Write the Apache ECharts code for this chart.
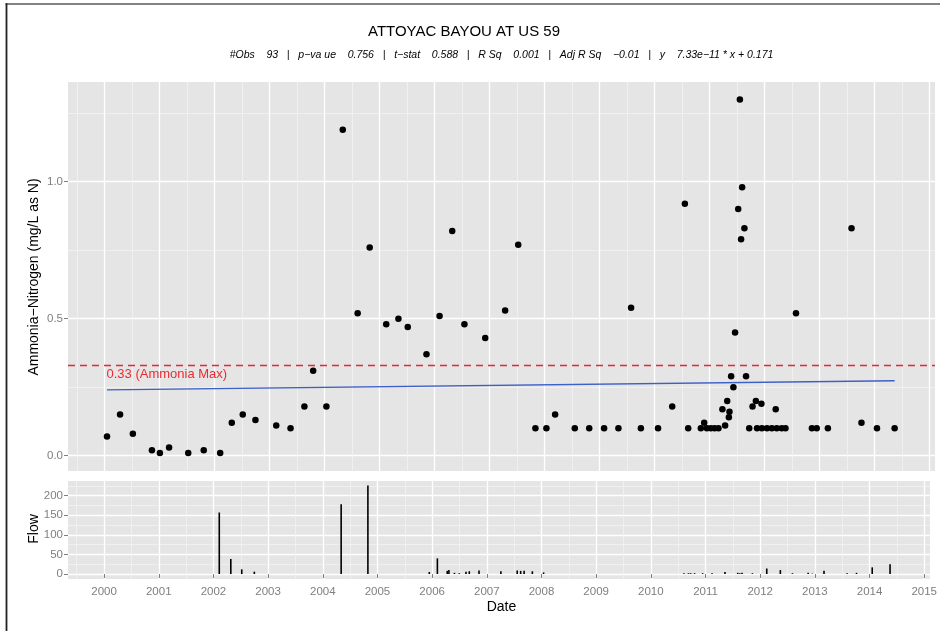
<!DOCTYPE html>
<html>
<head>
<meta charset="utf-8">
<script src="https://cdn.jsdelivr.net/npm/echarts@6/dist/echarts.min.js"></script>
<style>
  html, body { margin: 0; padding: 0; background: #ffffff; }
  #chart { width: 940px; height: 631px; }
</style>
</head>
<body>
<div id="chart"></div>
<script>
// Ammonia-nitrogen samples (mg/L as N)
const sampleDates = [
  '2000-01-19','2000-04-15','2000-07-09','2000-11-13','2001-01-05','2001-03-07','2001-07-12','2001-10-23',
  '2002-02-09','2002-04-27','2002-07-09','2002-10-01','2003-02-16','2003-05-22','2003-08-22','2003-10-19',
  '2004-01-15','2004-05-03','2004-08-10','2004-10-29','2005-02-16','2005-05-08','2005-07-09','2005-11-10',
  '2006-02-05','2006-04-30','2006-07-20','2006-12-05','2007-04-16','2007-07-12','2007-11-03','2008-01-15',
  '2008-03-13','2008-07-22','2008-10-26','2009-02-02','2009-05-08','2009-07-31','2009-10-04','2010-01-26',
  '2010-04-30','2010-07-23','2010-08-14','2010-11-06','2010-11-28','2010-12-16','2011-01-11','2011-02-05',
  '2011-03-03','2011-03-29','2011-04-16','2011-04-30','2011-05-11','2011-05-15','2011-05-26','2011-06-10',
  '2011-06-21','2011-07-12','2011-07-23','2011-07-31','2011-08-07','2011-08-22','2011-09-02','2011-09-23',
  '2011-10-15','2011-11-06','2011-11-14','2011-12-13','2011-12-16','2012-01-19','2012-02-20','2012-03-17',
  '2012-03-24','2012-04-26','2012-05-21','2012-07-30','2012-11-13','2012-12-15','2013-02-27','2013-08-03',
  '2013-10-08','2014-01-19','2014-05-16'
];
const ammoniaValues = [
  0.07, 0.15, 0.08, 0.02, 0.01, 0.03, 0.01, 0.02,
  0.01, 0.12, 0.15, 0.13, 0.11, 0.10, 0.18, 0.31,
  0.18, 1.19, 0.52, 0.76, 0.48, 0.50, 0.47, 0.37,
  0.51, 0.82, 0.48, 0.43, 0.53, 0.77, 0.10, 0.10,
  0.15, 0.10, 0.10, 0.10, 0.10, 0.54, 0.10, 0.10,
  0.18, 0.92, 0.10, 0.10, 0.12, 0.10, 0.10, 0.10,
  0.10, 0.17, 0.11, 0.20, 0.14, 0.16, 0.29, 0.25,
  0.45, 0.90, 1.30, 0.79, 0.98, 0.83, 0.29, 0.10,
  0.18, 0.20, 0.10, 0.19, 0.10, 0.10, 0.10, 0.17,
  0.10, 0.10, 0.10, 0.52, 0.10, 0.10, 0.10, 0.83,
  0.12, 0.10, 0.10
];

// Instantaneous flow at sampling
const flowDates = [
  '2002-02-09','2002-04-27','2002-07-09','2002-10-01','2004-05-03','2004-10-29','2005-12-13','2006-02-05',
  '2006-04-12','2006-04-23','2006-05-30','2006-07-01','2006-08-15','2006-09-06','2006-11-10','2007-04-05',
  '2007-07-23','2007-08-15','2007-09-07','2007-11-01','2008-01-15','2010-08-10','2010-09-09','2010-09-24',
  '2010-10-20','2010-12-13','2011-02-14','2011-05-11','2011-08-04','2011-08-18','2011-09-02','2011-11-10',
  '2012-02-14','2012-05-15','2012-08-04','2012-11-17','2012-12-15','2013-03-03','2013-08-04','2013-10-06',
  '2014-01-19','2014-05-18'
];
const flowValues = [
  157, 38, 12, 6, 178, 226, 5, 40,
  8, 10, 3, 2, 6, 7, 9, 7,
  9, 8, 8, 7, 4, 2, 2, 2,
  2, 2, 2, 5, 3, 2, 3, 2,
  14, 10, 2, 3, 1, 8, 2, 3,
  17, 25
];

// Axis ticks
const yearTicks = [2000, 2001, 2002, 2003, 2004, 2005, 2006, 2007, 2008, 2009, 2010, 2011, 2012, 2013, 2014, 2015];
const yearMinorTicks = [1999.5, 2000.5, 2001.5, 2002.5, 2003.5, 2004.5, 2005.5, 2006.5, 2007.5, 2008.5, 2009.5, 2010.5, 2011.5, 2012.5, 2013.5, 2014.5];
const ammoniaTicks = [0, 0.5, 1.0];
const ammoniaMinorTicks = [0.25, 0.75, 1.25];
const flowTicks = [0, 50, 100, 150, 200];
const flowMinorTicks = [25, 75, 125, 175, 225];

// Reference level and linear trend (x in seconds since 1970)
const ammoniaMax = 0.33;
const trendSlope = 7.33e-11;
const trendIntercept = 0.171;

const titleText = 'ATTOYAC BAYOU AT US 59';
const statsText = '#Obs    93   |   p\u2212va ue    0.756   |   t\u2212stat    0.588   |   R Sq    0.001   |   Adj R Sq    \u22120.01   |   y    7.33e\u221211 * x + 0.171';

// ---------- helpers ----------
function parseUTC(s) {
  const p = s.split('-').map(Number);
  return Date.UTC(p[0], p[1] - 1, p[2]);
}
function decimalYear(s) {
  const y = Number(s.slice(0, 4));
  const t = parseUTC(s);
  const a = Date.UTC(y, 0, 1), b = Date.UTC(y + 1, 0, 1);
  return y + (t - a) / (b - a);
}

const X_MIN = 1999.34, X_MAX = 2015.104;
const FONT = '"Liberation Sans", Arial, Helvetica, sans-serif';
const GREY = '#7f7f7f';

const ammoniaData = sampleDates.map((d, i) => [decimalYear(d), ammoniaValues[i]]);
const flowData = flowDates.map((d, i) => [decimalYear(d), flowValues[i]]);

const firstDate = sampleDates[0];
const lastDate = sampleDates[sampleDates.length - 1];
const trendAt = d => trendSlope * (parseUTC(d) / 1000) + trendIntercept;
const trendData = [[decimalYear(firstDate), trendAt(firstDate)], [decimalYear(lastDate), trendAt(lastDate)]];

function xAxisDef(gridIndex, ticks, major, withLabels) {
  return {
    gridIndex, type: 'value', min: X_MIN, max: X_MAX,
    position: major ? 'bottom' : 'top',
    axisLine: { show: false },
    axisTick: { show: !!withLabels, customValues: ticks, length: 4, lineStyle: { color: GREY, width: 1 } },
    axisLabel: { show: !!withLabels, customValues: ticks, margin: 7, color: GREY, fontSize: 11.5, fontFamily: FONT,
                 formatter: v => String(Math.round(v)) },
    splitLine: { show: true, lineStyle: major ? { color: '#ffffff', width: 1.3 } : { color: '#f2f2f2', width: 0.8 } }
  };
}
function yAxisDef(gridIndex, ticks, major, min, max, fmt) {
  return {
    gridIndex, type: 'value', min, max,
    position: major ? 'left' : 'right',
    axisLine: { show: false },
    axisTick: { show: major, customValues: ticks, length: 4, lineStyle: { color: GREY, width: 1 } },
    axisLabel: { show: major, customValues: ticks, margin: 5, color: GREY, fontSize: 11.5, fontFamily: FONT, formatter: fmt },
    splitLine: { show: true, lineStyle: major ? { color: '#ffffff', width: 1.3 } : { color: '#f2f2f2', width: 0.8 } }
  };
}

const chart = echarts.init(document.getElementById('chart'), null, { renderer: 'canvas' });

chart.setOption({
  animation: false,
  backgroundColor: '#ffffff',
  grid: [
    { left: 68, top: 82, width: 867, height: 389, show: true, backgroundColor: '#e5e5e5', borderWidth: 0 },
    { left: 68, top: 481, width: 867, height: 98, show: true, backgroundColor: '#e5e5e5', borderWidth: 0 }
  ],
  xAxis: [
    xAxisDef(0, yearTicks, true, false),
    xAxisDef(0, yearMinorTicks, false, false),
    xAxisDef(1, yearTicks, true, true),
    xAxisDef(1, yearMinorTicks, false, false)
  ],
  yAxis: [
    yAxisDef(0, ammoniaTicks, true, -0.0558, 1.3639, v => v.toFixed(1)),
    yAxisDef(0, ammoniaMinorTicks, false, -0.0558, 1.3639),
    yAxisDef(1, flowTicks, true, -12.76, 237.4, v => String(v)),
    yAxisDef(1, flowMinorTicks, false, -12.76, 237.4)
  ],
  series: [
    {
      name: 'Trend', type: 'line', xAxisIndex: 0, yAxisIndex: 0,
      data: trendData, symbol: 'none', silent: true, z: 3,
      lineStyle: { color: '#3d5fc6', width: 1.3 }
    },
    {
      name: 'Ammonia', type: 'scatter', xAxisIndex: 0, yAxisIndex: 0,
      data: ammoniaData, symbol: 'circle', symbolSize: 6.5, z: 4,
      itemStyle: { color: '#000000', opacity: 1 },
      markLine: {
        silent: true, symbol: ['none', 'none'], animation: false,
        label: { show: false },
        lineStyle: { type: [7, 5], color: '#e8282d', width: 1.3 },
        data: [{ yAxis: ammoniaMax }]
      },
      markPoint: {
        silent: true, symbol: 'rect', symbolSize: 1, animation: false,
        itemStyle: { color: 'rgba(0,0,0,0)' },
        label: {
          show: true, position: [0, 3], align: 'left', verticalAlign: 'top',
          color: '#ec2a30', fontSize: 13, fontFamily: FONT,
          formatter: ammoniaMax.toFixed(2) + ' (Ammonia Max)'
        },
        data: [{ coord: [decimalYear(firstDate), ammoniaMax] }]
      }
    },
    {
      name: 'Flow', type: 'bar', xAxisIndex: 2, yAxisIndex: 2,
      data: flowData, barWidth: 1.6, z: 3,
      itemStyle: { color: '#000000', opacity: 1 }
    }
  ],
  graphic: [
    { type: 'line', silent: true, shape: { x1: 5.5, y1: 4, x2: 940, y2: 4 }, style: { stroke: '#5a5a5a', lineWidth: 1.6 } },
    { type: 'line', silent: true, shape: { x1: 6.5, y1: 3.2, x2: 6.5, y2: 631 }, style: { stroke: '#222222', lineWidth: 1.8 } },
    { type: 'text', silent: true, x: 464, y: 32,
      style: { text: titleText, fill: '#000000', font: '15px ' + FONT, textAlign: 'center', textVerticalAlign: 'middle' } },
    { type: 'text', silent: true, x: 501.5, y: 55,
      style: { text: statsText, fill: '#000000', font: 'italic 10.5px ' + FONT, textAlign: 'center', textVerticalAlign: 'middle' } },
    { type: 'text', silent: true, x: 34, y: 277, rotation: Math.PI / 2,
      style: { text: 'Ammonia\u2212Nitrogen (mg/L as N)', fill: '#000000', font: '14px ' + FONT, textAlign: 'center', textVerticalAlign: 'middle' } },
    { type: 'text', silent: true, x: 34, y: 529, rotation: Math.PI / 2,
      style: { text: 'Flow', fill: '#000000', font: '14px ' + FONT, textAlign: 'center', textVerticalAlign: 'middle' } },
    { type: 'text', silent: true, x: 501.5, y: 607,
      style: { text: 'Date', fill: '#000000', font: '14px ' + FONT, textAlign: 'center', textVerticalAlign: 'middle' } }
  ]
});
</script>
</body>
</html>
